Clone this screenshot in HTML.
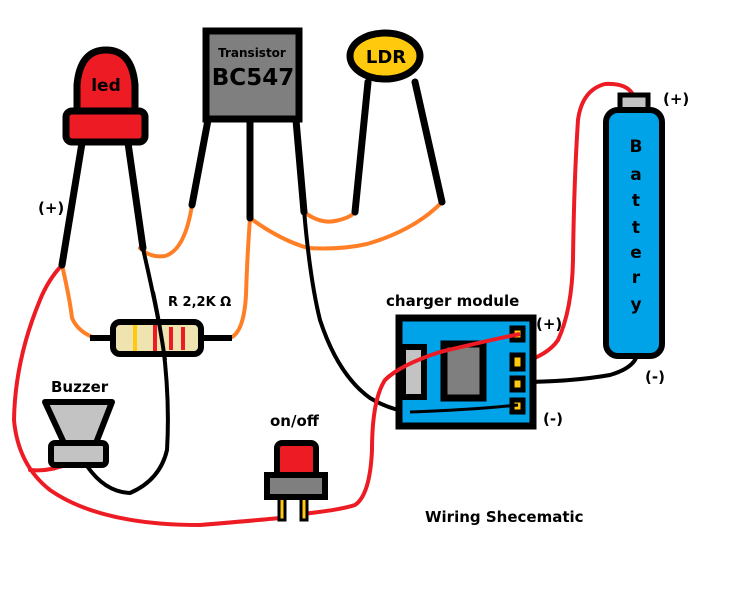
<!DOCTYPE html>
<html><head><meta charset="utf-8"><style>
html,body{margin:0;padding:0;background:#fff}
svg{display:block}
text{font-family:"DejaVu Sans","Liberation Sans",sans-serif;font-weight:bold;fill:#000}
</style></head><body>
<svg width="734" height="596" viewBox="0 0 734 596" xmlns="http://www.w3.org/2000/svg">
<rect width="734" height="596" fill="#fff"/>
<g fill="none" stroke-linecap="round" stroke-linejoin="round">
<path d="M62 265 Q70 300 72 318 Q78 332 95 338" stroke="#ff7f27" stroke-width="4"/>
<path d="M140 248 Q150 258 165 256 Q185 250 192 205" stroke="#ff7f27" stroke-width="4"/>
<path d="M250 218 Q247 260 246 295 Q244 330 232 337" stroke="#ff7f27" stroke-width="4"/>
<path d="M250 218 Q280 240 308 248 Q340 250 367 244 Q415 230 442 202" stroke="#ff7f27" stroke-width="4"/>
<path d="M304 212 Q320 224 335 221 Q350 218 355 212" stroke="#ff7f27" stroke-width="4"/>
<path d="M141 240 Q155 300 163 345 Q170 400 167 450 Q160 480 130 493 Q105 492 87 466" stroke="#000" stroke-width="4"/>
<path d="M304 210 Q310 280 320 320 Q338 375 370 398 Q390 410 410 412 Q470 410 518 405" stroke="#000" stroke-width="4"/>
<path d="M518 382 Q570 382 610 375 Q634 368 637 355" stroke="#000" stroke-width="4"/>
<path d="M62 265 Q48 280 40 300 Q15 360 14 420 Q18 465 50 490 Q100 525 200 525 Q260 520 280 518" stroke="#ed1c24" stroke-width="4"/>
<path d="M70 463 Q50 472 30 470" stroke="#ed1c24" stroke-width="4"/>
<path d="M302 514 Q340 510 355 505 Q370 495 372 450 Q372 400 385 380 Q400 365 440 352 Q490 340 520 334" stroke="#ed1c24" stroke-width="4"/>
<path d="M521 363 Q548 355 558 340 Q572 310 573 260 Q574 180 578 120 Q582 90 605 84 Q625 83 632 93" stroke="#ed1c24" stroke-width="4"/>
<path d="M82 143 L62 265" stroke="#000" stroke-width="7"/>
<path d="M128 143 L143 248" stroke="#000" stroke-width="7"/>
<path d="M208 120 L192 205" stroke="#000" stroke-width="7"/>
<path d="M250 120 L250 218" stroke="#000" stroke-width="7"/>
<path d="M296 120 L304 212" stroke="#000" stroke-width="7"/>
<path d="M368 82 L355 212" stroke="#000" stroke-width="7"/>
<path d="M415 82 L442 202" stroke="#000" stroke-width="7"/>
</g>
<path d="M77 112 L77 85 Q80 50 106 50 Q132 50 135 85 L135 112 Z" fill="#ed1c24" stroke="#000" stroke-width="7"/>
<rect x="66" y="111" width="79" height="31" rx="6" fill="#ed1c24" stroke="#000" stroke-width="7"/>
<text x="106" y="91" font-size="17" text-anchor="middle">led</text>
<rect x="206" y="31" width="93" height="88" fill="#7f7f7f" stroke="#000" stroke-width="7"/>
<text x="252" y="57" font-size="12" text-anchor="middle">Transistor</text>
<text x="253" y="85" font-size="23" text-anchor="middle">BC547</text>
<ellipse cx="385" cy="56" rx="35" ry="23" fill="#ffc90e" stroke="#000" stroke-width="7"/>
<text x="386" y="63" font-size="18" text-anchor="middle">LDR</text>
<line x1="90" y1="338" x2="232" y2="338" stroke="#000" stroke-width="6"/>
<rect x="113" y="322" width="88" height="32" rx="7" fill="#efe4b0" stroke="#000" stroke-width="6"/>
<g stroke-width="4"><line x1="135" y1="325" x2="135" y2="351" stroke="#ffc90e"/><line x1="155" y1="325" x2="155" y2="351" stroke="#ed1c24"/><line x1="171" y1="327" x2="171" y2="350" stroke="#ed1c24"/><line x1="183" y1="327" x2="183" y2="350" stroke="#ed1c24"/></g>
<path d="M153 292 Q160 325 165 360" fill="none" stroke="#000" stroke-width="4"/>
<text x="168" y="306" font-size="13">R 2,2K Ω</text>
<polygon points="45,402 112,402 96,443 64,443" fill="#c3c3c3" stroke="#000" stroke-width="6" stroke-linejoin="round"/>
<rect x="51" y="443" width="55" height="22" rx="4" fill="#c3c3c3" stroke="#000" stroke-width="6"/>
<text x="51" y="392" font-size="15">Buzzer</text>
<rect x="279" y="495" width="6" height="25" fill="#ffc90e" stroke="#000" stroke-width="3"/>
<rect x="301" y="495" width="6" height="25" fill="#ffc90e" stroke="#000" stroke-width="3"/>
<rect x="277" y="443" width="39" height="36" rx="5" fill="#ed1c24" stroke="#000" stroke-width="6"/>
<rect x="267" y="475" width="58" height="22" fill="#7f7f7f" stroke="#000" stroke-width="6"/>
<text x="270" y="426" font-size="15">on/off</text>
<rect x="399" y="318" width="134" height="108" fill="#00a2e8" stroke="#000" stroke-width="7"/>
<rect x="403" y="347" width="21" height="50" fill="#c3c3c3" stroke="#000" stroke-width="6"/>
<rect x="444" y="344" width="39" height="54" fill="#7f7f7f" stroke="#000" stroke-width="7"/>
<g fill="#ffc90e" stroke="#000" stroke-width="5"><rect x="512" y="328" width="11" height="12"/><rect x="512" y="355" width="11" height="14"/><rect x="512" y="378" width="11" height="12"/><rect x="512" y="400" width="11" height="12"/></g>
<path d="M410 412 Q470 410 518 405" fill="none" stroke="#000" stroke-width="3"/>
<path d="M385 380 Q400 365 440 352 Q490 340 520 334" fill="none" stroke="#ed1c24" stroke-width="4"/>
<text x="386" y="306" font-size="15">charger module</text>
<text x="536" y="329" font-size="15">(+)</text>
<text x="543" y="424" font-size="15">(-)</text>
<rect x="620" y="95" width="28" height="16" fill="#c3c3c3" stroke="#000" stroke-width="5"/>
<rect x="606" y="110" width="56" height="246" rx="12" fill="#00a2e8" stroke="#000" stroke-width="6"/>
<g font-size="17" text-anchor="middle"><text x="636" y="152">B</text><text x="636" y="180">a</text><text x="636" y="206">t</text><text x="636" y="233">t</text><text x="636" y="258">e</text><text x="636" y="283">r</text><text x="636" y="310">y</text></g>
<text x="663" y="104" font-size="15">(+)</text>
<text x="645" y="382" font-size="15">(-)</text>
<text x="38" y="213" font-size="15">(+)</text>
<text x="425" y="522" font-size="15">Wiring Shecematic</text>
</svg>
</body></html>
